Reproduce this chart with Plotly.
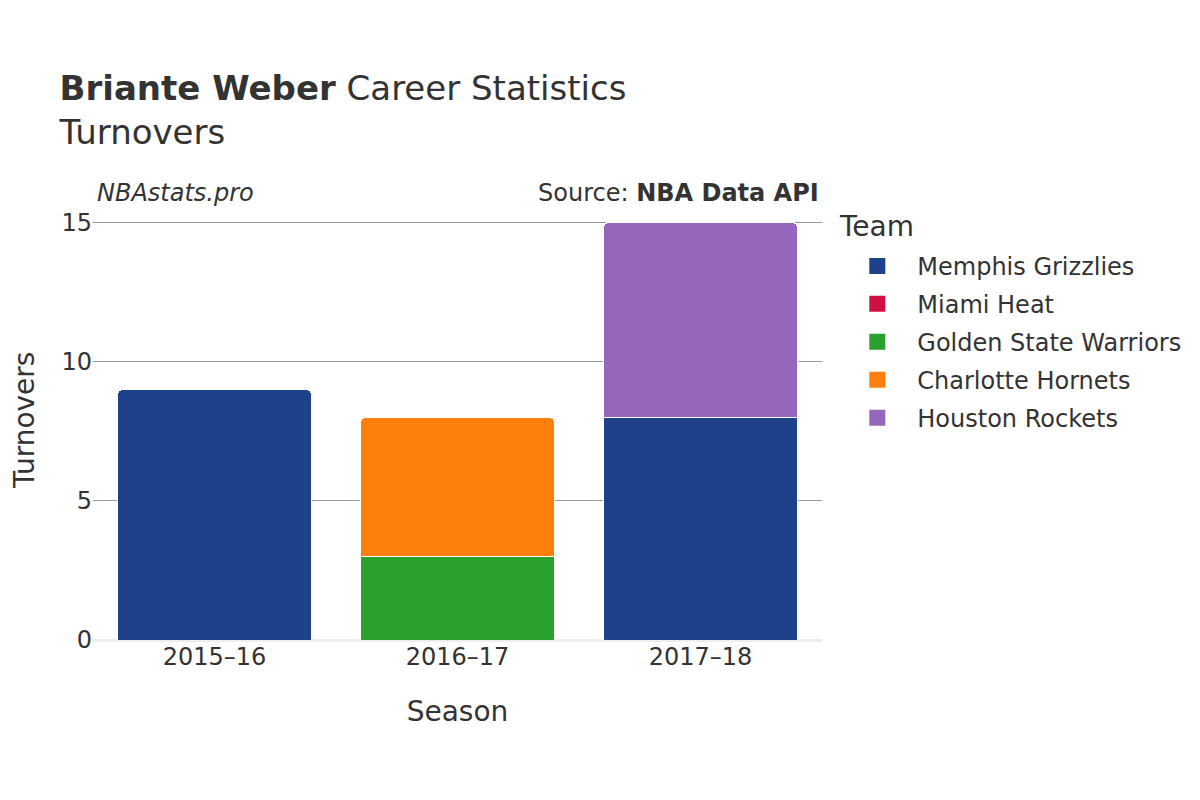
import plotly.graph_objects as go

seasons = ["2015–16", "2016–17", "2017–18"]
teams = ["Memphis Grizzlies", "Miami Heat", "Golden State Warriors", "Charlotte Hornets", "Houston Rockets"]
colors = ["#1d428a", "#ce1141", "#2ca02c", "#ff7f0e", "#9467bd"]
values = {
    "Memphis Grizzlies": [9, None, 8],
    "Miami Heat": [None, 0, None],
    "Golden State Warriors": [None, 3, None],
    "Charlotte Hornets": [None, 5, None],
    "Houston Rockets": [None, None, 7],
}

FONT = "DejaVu Sans"
fig = go.Figure()
for team, col in zip(teams, colors):
    fig.add_trace(go.Bar(
        x=seasons, y=values[team], name=team, legendgroup=team, showlegend=False,
        marker=dict(color=col, line=dict(color="white", width=1)),
    ))
# legend proxies (larger square swatches)
for team, col in zip(teams, colors):
    fig.add_trace(go.Scatter(
        x=[None], y=[None], mode="markers", name=team, legendgroup=team,
        marker=dict(symbol="square", size=22, color=col),
    ))

fig.update_layout(
    width=1200, height=800,
    barmode="stack", bargap=0.2, barcornerradius=6,
    plot_bgcolor="white", paper_bgcolor="white",
    font=dict(family=FONT, color="#333", size=24),
    margin=dict(l=85, r=386, t=212, b=168, autoexpand=False),
    title=dict(
        text="<b>Briante Weber</b> Career Statistics<br>Turnovers",
        x=0.043, xanchor="left", y=0.885, yanchor="top",
        font=dict(size=34, family=FONT, color="#333"),
    ),
    legend=dict(
        x=1.021, xanchor="left", y=0.9433, yanchor="top",
        font=dict(size=24), itemsizing="trace", itemwidth=70,
        tracegroupgap=3.75,
    ),
    xaxis=dict(
        title=dict(text="Season", font=dict(size=28), standoff=31),
        tickfont=dict(size=24), showgrid=False, automargin=False,
        ticks="", ticklen=0,
    ),
    yaxis=dict(
        tickfont=dict(size=24), range=[0, 15.08], automargin=False,
        tickvals=[0, 5, 10, 15], showgrid=True, gridcolor="#999", gridwidth=1,
        zeroline=True, zerolinecolor="#eee", zerolinewidth=3,
        ticks="",
    ),
    annotations=[
        dict(text="Turnovers", xref="paper", yref="paper", x=-0.0947, y=0.5238,
             xanchor="center", yanchor="middle", textangle=-90, showarrow=False,
             font=dict(size=28, color="#333")),
        dict(text="<i>NBAstats.pro</i>", xref="paper", yref="paper", x=0.0023, y=1.0262,
             xanchor="left", yanchor="bottom", showarrow=False, font=dict(size=24, color="#333")),
        dict(text="Source: <b>NBA Data API</b>", xref="paper", yref="paper", x=0.9986, y=1.0262,
             xanchor="right", yanchor="bottom", showarrow=False, font=dict(size=24, color="#333")),
        dict(text="Team", xref="paper", yref="paper", x=1.0206, y=0.9857,
             xanchor="left", yanchor="middle", showarrow=False, font=dict(size=28, color="#333")),
    ],
)
fig.write_html("out.html")
